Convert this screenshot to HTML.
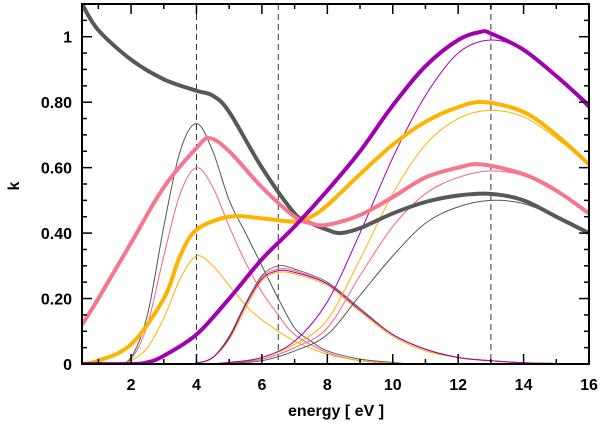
<!DOCTYPE html>
<html><head><meta charset="utf-8"><style>
body{margin:0;background:#fff}
svg text{font-family:"Liberation Sans",sans-serif;font-weight:bold;font-size:16px;fill:#000}
</style></head><body>
<svg id="c" width="600" height="425"></svg>
<script>
const xTicks=[2,4,6,8,10,12,14,16];
const yTicks=[0,0.2,0.4,0.6,0.8,1];
const yTickLabels=["0","0.20","0.40","0.60","0.80","1"];
const vlines=[4,6.5,13];
const thickGray=[[0.5,1.1],[1,1.02],[2,0.93],[3,0.87],[4,0.835],[4.5,0.82],[5,0.77],[6,0.6],[7,0.46],[7.5,0.43],[8,0.41],[8.4,0.40],[9,0.415],[10,0.46],[11,0.495],[12,0.515],[13,0.52],[14,0.5],[15,0.45],[16,0.40]];
const thickPink=[[0.5,0.12],[1,0.2],[2,0.37],[3,0.54],[4,0.66],[4.4,0.69],[5,0.65],[6,0.54],[7,0.45],[7.5,0.43],[8,0.425],[9,0.455],[10,0.51],[11,0.57],[12,0.60],[12.7,0.61],[14,0.58],[15,0.53],[16,0.46]];
const thickOrange=[[0.5,0],[1,0.01],[2,0.06],[3,0.2],[3.5,0.33],[4,0.41],[5,0.45],[6,0.445],[7,0.435],[7.5,0.45],[8,0.485],[9,0.58],[10,0.67],[11,0.74],[12,0.785],[12.8,0.80],[14,0.77],[15,0.70],[16,0.61]];
const thickPurple=[[0.5,0],[2,0],[2.5,0.005],[3,0.025],[4,0.09],[5,0.2],[6,0.32],[7,0.42],[8,0.53],[9,0.65],[10,0.79],[11,0.91],[12,0.99],[12.7,1.015],[13,1.01],[14,0.96],[15,0.88],[16,0.79]];
const thinGray1=[[0.5,0],[1.5,0],[2,0.02],[2.5,0.15],[3,0.42],[3.5,0.65],[4,0.735],[4.5,0.65],[5,0.5],[5.5,0.4],[6,0.3],[6.5,0.2],[7,0.11],[7.5,0.07],[8,0.04],[9,0.015],[10,0.005],[11,0],[16,0]];
const thinPink1=[[0.5,0],[1.5,0],[2,0.015],[2.5,0.12],[3,0.33],[3.5,0.52],[4,0.6],[4.5,0.54],[5,0.42],[5.5,0.31],[6,0.22],[6.5,0.15],[7,0.09],[8,0.035],[9,0.01],[10,0.003],[11,0],[16,0]];
const thinOrange1=[[0.5,0],[1.5,0],[2,0.01],[2.5,0.05],[3,0.14],[3.5,0.26],[4,0.33],[4.5,0.3],[5,0.24],[5.5,0.18],[6,0.135],[7,0.07],[8,0.03],[9,0.01],[10,0.003],[11,0],[16,0]];
const thinGray2=[[0.5,0],[3.5,0],[4,0.003],[4.5,0.02],[5,0.085],[5.5,0.185],[6,0.27],[6.5,0.3],[7,0.29],[8,0.25],[9,0.17],[10,0.09],[11,0.045],[12,0.02],[13,0.01],[14,0.004],[16,0]];
const thinPink2=[[0.5,0],[3.5,0],[4,0.003],[4.5,0.02],[5,0.08],[5.5,0.18],[6,0.265],[6.5,0.29],[7,0.285],[8,0.245],[9,0.165],[10,0.09],[11,0.045],[12,0.02],[13,0.01],[14,0.004],[16,0]];
const thinOrange2=[[0.5,0],[3.5,0],[4,0.003],[4.5,0.02],[5,0.075],[5.5,0.17],[6,0.255],[6.5,0.28],[7,0.275],[8,0.24],[9,0.16],[10,0.085],[11,0.04],[12,0.02],[13,0.01],[14,0.004],[16,0]];
const thinPurple2=[[0.5,0],[3.5,0],[4,0.003],[4.5,0.02],[5,0.08],[5.5,0.18],[6,0.26],[6.5,0.285],[7,0.28],[8,0.245],[9,0.165],[10,0.09],[11,0.045],[12,0.02],[13,0.01],[14,0.004],[16,0]];
const thinPurple3=[[0.5,0],[4,0],[5,0.005],[6,0.02],[7,0.07],[8,0.19],[9,0.4],[10,0.63],[11,0.82],[12,0.95],[13,0.99],[14,0.96],[15,0.88],[16,0.78]];
const thinOrange3=[[0.5,0],[4,0],[5,0.005],[6,0.02],[7,0.06],[8,0.135],[9,0.32],[10,0.52],[11,0.67],[12,0.75],[13,0.775],[14,0.755],[15,0.69],[16,0.61]];
const thinPink3=[[0.5,0],[4.5,0],[5,0.004],[6,0.015],[7,0.05],[8,0.11],[9,0.27],[10,0.42],[11,0.52],[12,0.57],[13,0.59],[14,0.575],[15,0.525],[16,0.46]];
const thinGray3=[[0.5,0],[4.5,0],[5,0.003],[6,0.01],[7,0.04],[8,0.09],[9,0.21],[10,0.33],[11,0.43],[12,0.48],[13,0.50],[14,0.49],[15,0.45],[16,0.40]];

const L=82,R=589,T=4,B=364,X0=0.5,X1=16,Y0=0,Y1=1.1;
const sx=v=>L+(v-X0)/(X1-X0)*(R-L);
const sy=v=>B-(v-Y0)/(Y1-Y0)*(B-T);
const svg=document.getElementById('c');
const NS='http://www.w3.org/2000/svg';
function mk(tag,attrs,parent){const e=document.createElementNS(NS,tag);for(const k in attrs)e.setAttribute(k,attrs[k]);(parent||svg).appendChild(e);return e;}
function path(pts){
  const p=pts.map(d=>[sx(d[0]),sy(d[1])]);
  let s='M'+p[0][0]+','+p[0][1];
  for(let i=0;i<p.length-1;i++){
    const p0=p[Math.max(0,i-1)],p1=p[i],p2=p[i+1],p3=p[Math.min(p.length-1,i+2)];
    const c1=[p1[0]+(p2[0]-p0[0])/6,p1[1]+(p2[1]-p0[1])/6];
    const c2=[p2[0]-(p3[0]-p1[0])/6,p2[1]-(p3[1]-p1[1])/6];
    c1[1]=Math.min(c1[1],B+1);c2[1]=Math.min(c2[1],B+1);
    s+=' C'+c1+' '+c2+' '+p2;
  }
  return s;
}
const defs=mk('defs',{});const cp=mk('clipPath',{id:'cl'},defs);mk('rect',{x:L,y:T,width:R-L,height:B-T},cp);
const g=mk('g',{'clip-path':'url(#cl)'});

vlines.forEach(v=>{const e=mk('line',{x1:sx(v),x2:sx(v),y1:T,y2:B,stroke:'#333','stroke-width':1,'stroke-dasharray':'6,4'},g);

});
const series=[
 [thinGray1,'#555',1,'thin-gray-peak-4'],[thinPink1,'#f0648a',1,'thin-pink-peak-4'],[thinOrange1,'#ffb000',1,'thin-orange-peak-4'],
 [thinGray2,'#666',1,'thin-gray-peak-6'],[thinOrange2,'#ffb000',1,'thin-orange-peak-6'],[thinPink2,'#f0648a',1,'thin-pink-peak-6'],[thinPurple2,'#a000b0',1,'thin-purple-peak-6'],
 [thinGray3,'#555',1,'thin-gray-peak-13'],[thinPink3,'#f0648a',1,'thin-pink-peak-13'],[thinOrange3,'#ffb000',1,'thin-orange-peak-13'],[thinPurple3,'#a000b0',1,'thin-purple-peak-13'],
 [thickGray,'#585858',4,'thick-gray-series'],[thickOrange,'#ffb300',4,'thick-orange-series'],[thickPink,'#f7768e',4,'thick-pink-series'],[thickPurple,'#a000b0',4,'thick-purple-series']];
series.forEach(s=>{const e=mk('path',{d:path(s[0]),fill:'none',stroke:s[1],'stroke-width':s[2],'stroke-linejoin':'round'},g);

});
const fr=mk('rect',{x:L,y:T,width:R-L,height:B-T,fill:'none',stroke:'#000','stroke-width':2});

for(let v=1;v<=16;v+=1){const big=v%2==0;const len=big?10:5;
 mk('line',{x1:sx(v),x2:sx(v),y1:B,y2:B-len,stroke:'#000','stroke-width':1.5});
 mk('line',{x1:sx(v),x2:sx(v),y1:T,y2:T+len,stroke:'#000','stroke-width':1.5});}
for(let v=0.05;v<1.1;v+=0.05){const big=Math.abs(v/0.2-Math.round(v/0.2))<1e-6;const len=big?10:5;
 mk('line',{x1:L,x2:L+len,y1:sy(v),y2:sy(v),stroke:'#000','stroke-width':1.5});
 mk('line',{x1:R,x2:R-len,y1:sy(v),y2:sy(v),stroke:'#000','stroke-width':1.5});}
xTicks.forEach(v=>{const t=mk('text',{x:sx(v),y:390,'text-anchor':'middle'});t.textContent=String(v);
});
yTicks.forEach((v,i)=>{const t=mk('text',{x:72,y:sy(v)+6,'text-anchor':'end'});t.textContent=yTickLabels[i];
});
const xt=mk('text',{x:336,y:416,'text-anchor':'middle'});xt.textContent='energy [ eV ]';
const yt=mk('text',{x:19,y:186,'text-anchor':'middle',transform:'rotate(-90 19 186)'});yt.textContent='k';
</script>
</body></html>
